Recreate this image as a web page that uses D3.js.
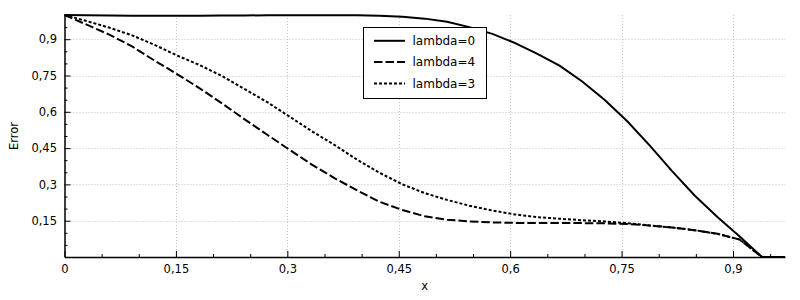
<!DOCTYPE html>
<html>
<head>
<meta charset="utf-8">
<script src="https://cdn.jsdelivr.net/npm/d3@7"></script>
<style>
    body { margin: 0; background: white; }
    svg { display: block; font-family: "DejaVu Sans", sans-serif; }
</style>
</head>
<body>
<svg width="800" height="300"></svg>
<script>
    let margin = { top: 15, right: 15, bottom: 43, left: 64.5 };
    let width = 800;
    let height = 300;

    // shared x grid of the three runs
    let xs = [0, 0.030, 0.061, 0.091, 0.121, 0.152, 0.182, 0.212, 0.242, 0.273, 0.303,
        0.333, 0.364, 0.394, 0.424, 0.455, 0.485, 0.515, 0.545, 0.576, 0.606,
        0.636, 0.667, 0.697, 0.727, 0.758, 0.788, 0.818, 0.848, 0.879, 0.909, 0.939, 0.970];

    let lambda0 = [1.0, 0.999, 0.998, 0.997, 0.997, 0.997, 0.997, 0.998, 0.998, 0.999, 0.999,
        0.999, 0.999, 0.999, 0.997, 0.993, 0.985, 0.972, 0.950, 0.922, 0.885,
        0.84, 0.79, 0.725, 0.65, 0.56, 0.46, 0.355, 0.255, 0.165, 0.085, 0, 0];

    let lambda4 = [1.0, 0.96, 0.918, 0.87, 0.812, 0.755, 0.697, 0.635, 0.57, 0.505, 0.443,
        0.382, 0.325, 0.275, 0.228, 0.194, 0.168, 0.154, 0.147, 0.143, 0.141,
        0.14, 0.14, 0.14, 0.139, 0.136, 0.13, 0.122, 0.111, 0.096, 0.072, 0, 0];

    let lambda3 = [1.0, 0.975, 0.947, 0.916, 0.877, 0.832, 0.793, 0.748, 0.695, 0.64, 0.58,
        0.52, 0.462, 0.402, 0.348, 0.3, 0.264, 0.236, 0.212, 0.192, 0.176,
        0.165, 0.158, 0.152, 0.147, 0.14, 0.13, 0.122, 0.111, 0.096, 0.072, 0, 0];

    let seriesNames = ["lambda=0", "lambda=4", "lambda=3"];
    let xTicks = [0, 0.15, 0.3, 0.45, 0.6, 0.75, 0.9];
    let yTicks = [0.15, 0.3, 0.45, 0.6, 0.75, 0.9];
    let minorTicks = [0.05, 0.1, 0.2, 0.25, 0.35, 0.4, 0.5, 0.55, 0.65, 0.7, 0.8, 0.85, 0.95];

    let dashes = ["none", "8.5,3", "3,2"];

    let locale = d3.formatLocale({ decimal: ",", thousands: ".", grouping: [3], currency: ["", ""] });
    let fmt = locale.format("~g");

    let svg = d3.select("svg");

    let x = d3.scaleLinear()
        .domain([0, d3.max(xs)])
        .range([margin.left, width - margin.right]);

    let y = d3.scaleLinear()
        .domain([0, 1])
        .range([height - margin.bottom, margin.top]);

    // dotted grid
    let grid = svg.append("g")
        .style("stroke", "#c4c4c4")
        .style("stroke-width", 1)
        .style("stroke-dasharray", "1,2");

    grid.selectAll(".vg")
        .data(xTicks.filter(d => d > 0))
        .join("line")
        .attr("x1", d => Math.round(x(d)) + 0.5)
        .attr("x2", d => Math.round(x(d)) + 0.5)
        .attr("y1", y(1))
        .attr("y2", y(0));

    grid.selectAll(".hg")
        .data(yTicks)
        .join("line")
        .attr("x1", x(0))
        .attr("x2", x.range()[1])
        .attr("y1", d => Math.round(y(d)) + 0.5)
        .attr("y2", d => Math.round(y(d)) + 0.5);

    // axes
    let xAxis = svg.append("g")
        .attr("transform", `translate(0, ${y(0)})`)
        .call(d3.axisBottom(x)
            .tickValues(xTicks)
            .tickSizeInner(-6)
            .tickSizeOuter(0)
            .tickPadding(8)
            .tickFormat(fmt));

    let xMinor = svg.append("g")
        .attr("transform", `translate(0, ${y(0)})`)
        .call(d3.axisBottom(x)
            .tickValues(minorTicks.filter(d => d < d3.max(xs)))
            .tickSizeInner(-3)
            .tickSizeOuter(0)
            .tickFormat(""));
    xMinor.select(".domain").remove();

    let yAxis = svg.append("g")
        .attr("transform", `translate(${x(0)}, 0)`)
        .call(d3.axisLeft(y)
            .tickValues(yTicks)
            .tickSizeInner(-6)
            .tickSizeOuter(0)
            .tickPadding(7.5)
            .tickFormat(fmt));

    let yMinor = svg.append("g")
        .attr("transform", `translate(${x(0)}, 0)`)
        .call(d3.axisLeft(y)
            .tickValues(minorTicks)
            .tickSizeInner(-3)
            .tickSizeOuter(0)
            .tickFormat(""));
    yMinor.select(".domain").remove();

    svg.selectAll(".domain")
        .style("stroke", "black")
        .style("stroke-width", 1.5);
    svg.selectAll(".tick line")
        .style("stroke", "black")
        .style("stroke-width", 1);
    svg.selectAll(".tick text")
        .style("font-family", "DejaVu Sans")
        .style("font-size", "11.5px")
        .style("fill", "black");

    // axis titles
    svg.append("text")
        .attr("x", (x.range()[0] + x.range()[1]) / 2)
        .attr("y", 290)
        .attr("text-anchor", "middle")
        .style("font-size", "11.5px")
        .text("x");

    svg.append("text")
        .attr("transform", `translate(18, ${(y(0) + y(1)) / 2}) rotate(-90)`)
        .attr("text-anchor", "middle")
        .style("font-size", "11.5px")
        .text("Error");

    // lines
    let line = d3.line()
        .x(function (d) { return x(d[0]) })
        .y(function (d) { return y(d[1]) });

    let allSeries = [lambda0, lambda4, lambda3].map(function (vals) {
        return vals.map(function (v, i) { return [xs[i], v] })
    });

    svg.append("g")
        .selectAll(".line")
        .data(allSeries)
        .join("path")
        .attr("d", d => line(d))
        .style("fill", "none")
        .style("stroke", "black")
        .style("stroke-width", 2)
        .style("stroke-dasharray", (d, i) => dashes[i]);

    // legend
    let legend = svg.append("g")
        .attr("transform", "translate(363.5, 27.5)");

    legend.append("rect")
        .attr("width", 123)
        .attr("height", 71)
        .style("fill", "white")
        .style("stroke", "black")
        .style("stroke-width", 1);

    let rows = legend.selectAll(".row")
        .data(seriesNames)
        .join("g")
        .attr("transform", (d, i) => `translate(0, ${13.3 + i * 21.3})`);

    rows.append("line")
        .attr("x1", 10.5)
        .attr("x2", 41.5)
        .style("stroke", "black")
        .style("stroke-width", 2)
        .style("stroke-dasharray", (d, i) => dashes[i]);

    rows.append("text")
        .attr("x", 49)
        .attr("dy", "0.35em")
        .style("font-size", "12px")
        .text(d => d);
</script>
</body>
</html>
